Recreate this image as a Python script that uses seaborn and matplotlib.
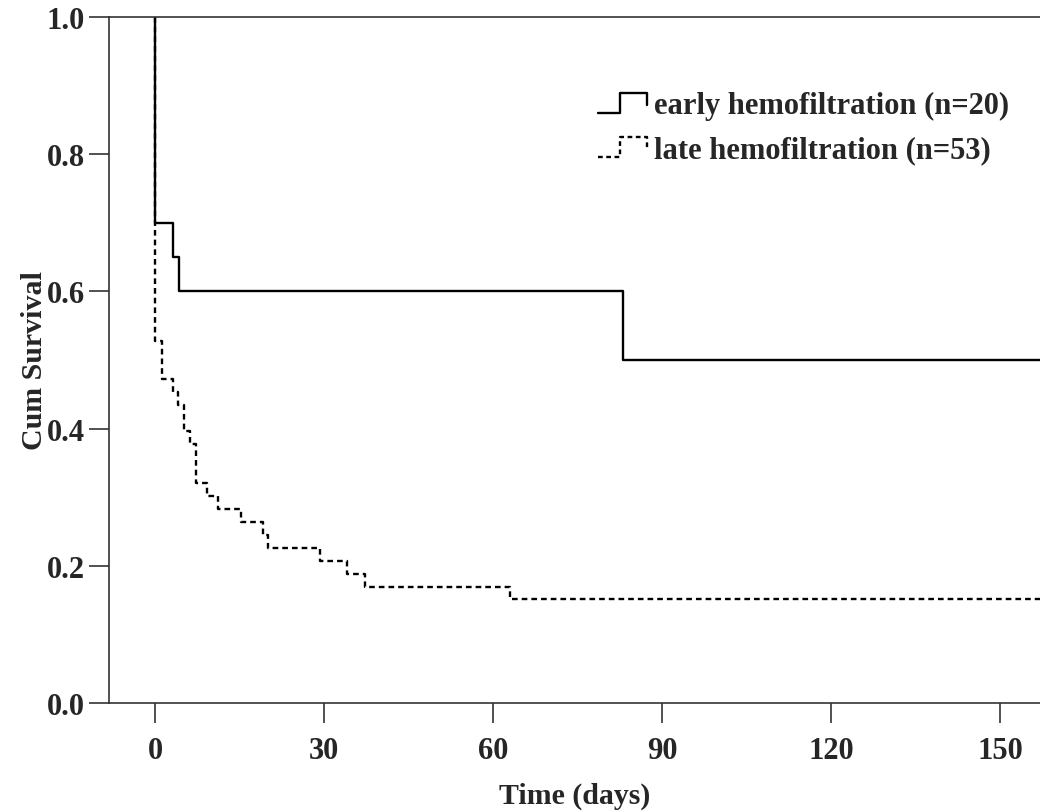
import numpy as np
import pandas as pd
import matplotlib
matplotlib.use("Agg")
import matplotlib.pyplot as plt
import seaborn as sns
from matplotlib.lines import Line2D
from matplotlib.legend_handler import HandlerBase

# Kaplan-Meier step data
early_days = [0, 0, 3.1, 4.3, 83.1, 160]
early_surv = [1.0, 0.70, 0.65, 0.60, 0.50, 0.50]

late_days = [0, 0, 1.2, 3.1, 4.1, 5.2, 6.2, 7.2, 9.2, 11.2, 15.2, 19.1, 20.1,
             29.2, 34.1, 37.2, 63.0, 160]
late_surv = [1.0, 28/53, 25/53, 24/53, 23/53, 21/53, 20/53, 17/53, 16/53, 15/53,
             14/53, 13/53, 12/53, 11/53, 10/53, 9/53, 8/53, 8/53]

labels = ["early hemofiltration (n=20)", "late hemofiltration (n=53)"]
x_ticks = [0, 30, 60, 90, 120, 150]
y_ticks = [0.0, 0.2, 0.4, 0.6, 0.8, 1.0]

df = pd.concat([
    pd.DataFrame({"Time": early_days, "Surv": early_surv, "Group": labels[0]}),
    pd.DataFrame({"Time": late_days, "Surv": late_surv, "Group": labels[1]}),
])

sns.set_style("ticks")
plt.rcParams["font.family"] = ["Liberation Serif", "DejaVu Serif"]
plt.rcParams["font.weight"] = "bold"

fig = plt.figure(figsize=(10.4, 8.12), dpi=100)
ax = fig.add_axes([0.1048, 0.133, 0.8952, 0.8448])

sns.lineplot(data=df[df.Group == labels[0]], x="Time", y="Surv", color="black",
             estimator=None, sort=False, drawstyle="steps-post", linewidth=1.7,
             ax=ax, label=labels[0])
sns.lineplot(data=df[df.Group == labels[1]], x="Time", y="Surv", color="black",
             estimator=None, sort=False, drawstyle="steps-post", linewidth=1.7,
             linestyle=(0, (2.4, 1.7)), ax=ax, label=labels[1])


class StepHandler(HandlerBase):
    def create_artists(self, legend, orig_handle, xdescent, ydescent,
                       width, height, fontsize, trans):
        x0, y0 = -xdescent, -ydescent
        xs = np.array([0, 0.45, 0.45, 1.0, 1.0]) * width + x0
        ys = np.array([0.0, 0.0, 0.95, 0.95, 0.4]) * height + y0
        ln = Line2D(xs, ys, color=orig_handle.get_color(),
                    linestyle=orig_handle.get_linestyle(),
                    linewidth=orig_handle.get_linewidth(), transform=trans)
        if orig_handle.get_linestyle() != "-":
            ln.set_dashes((2.0, 1.5))
        return [ln]


handles = ax.get_lines()[:2]
ax.legend(handles, labels, handler_map={Line2D: StepHandler()},
          loc="upper left", bbox_to_anchor=(0.525, 0.892), frameon=False,
          borderaxespad=0, borderpad=0, handlelength=1.6, handletextpad=0.25,
          labelspacing=0.5, prop={"weight": "bold", "size": 22})

ax.set_xlim(-8.2, 157.1)
ax.set_ylim(0, 1.0)
ax.set_xticks(x_ticks)
ax.set_yticks(y_ticks)
ax.set_yticklabels([f"{v:.1f}" for v in y_ticks])
ax.tick_params(axis="both", length=14.5, width=1.2, labelsize=22, color="#333333")
ax.tick_params(axis="x", pad=9.5)
ax.tick_params(axis="y", pad=3)
for t in ax.get_xticklabels() + ax.get_yticklabels():
    t.set_fontweight("bold")
ax.set_xlabel("Time (days)", fontsize=21.5, fontweight="bold", labelpad=12)
ax.set_ylabel("Cum Survival", fontsize=21.5, fontweight="bold", labelpad=-1)

for s in ["left", "bottom", "top"]:
    ax.spines[s].set_linewidth(1.2)
    ax.spines[s].set_color("#333333")
ax.spines["right"].set_visible(False)

fig.savefig("out.png", dpi=100)
